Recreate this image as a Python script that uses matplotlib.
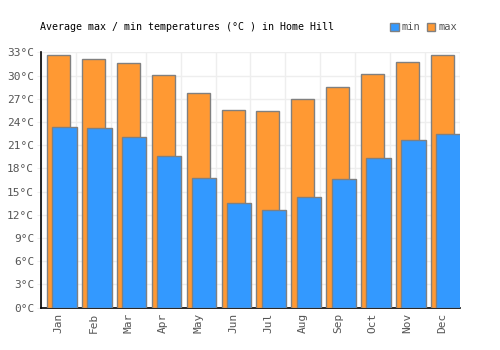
import matplotlib
matplotlib.use("Agg")
import matplotlib.pyplot as plt
import numpy as np
from matplotlib.patches import Patch

months = ["Jan", "Feb", "Mar", "Apr", "May", "Jun", "Jul", "Aug", "Sep", "Oct", "Nov", "Dec"]
max_temps = [32.6, 32.1, 31.6, 30.1, 27.7, 25.6, 25.4, 26.9, 28.5, 30.2, 31.8, 32.7]
min_temps = [23.3, 23.2, 22.1, 19.6, 16.7, 13.5, 12.6, 14.3, 16.6, 19.3, 21.7, 22.5]
yticks = [0, 3, 6, 9, 12, 15, 18, 21, 24, 27, 30, 33]

plt.rcParams['font.family'] = ['DejaVu Sans Mono']

fig = plt.figure(figsize=(5, 3.5), dpi=100)
ax = fig.add_axes([0.082, 0.121, 0.838, 0.7296])

x = np.arange(len(months))
orange = "#FF9933"
blue = "#3399FF"
edge = "#808080"

ax.bar(x, max_temps, width=0.66, color=orange, edgecolor=edge, linewidth=1, zorder=3)
ax.bar(x + 0.17, min_temps, width=0.7, color=blue, edgecolor=edge, linewidth=1, zorder=4)

ax.set_xlim(-0.5, 11.5)
ax.set_ylim(0, 33)
ax.set_yticks(yticks)
ax.set_yticklabels([f"{v}°C" for v in yticks], fontsize=8, color="#555555")
ax.set_xticks(x)
ax.set_xticklabels(months, rotation=90, fontsize=8, color="#555555")
ax.set_xticks(np.arange(-0.5, 12, 1), minor=True)
ax.tick_params(axis='x', which='both', length=0, pad=4)
ax.tick_params(axis='y', length=3, color="#eeeeee", pad=2)
ax.grid(True, axis='y', color="#eeeeee", linewidth=1, zorder=0)
ax.grid(True, axis='x', which='minor', color="#eeeeee", linewidth=1, zorder=0)
ax.grid(False, axis='x', which='major')

for s in ["top", "right"]:
    ax.spines[s].set_visible(False)
ax.spines["left"].set_color("black")
ax.spines["bottom"].set_color("black")
ax.spines["left"].set_linewidth(1.2)
ax.spines["bottom"].set_linewidth(1.2)

fig.text(0.08, 0.922, "Average max / min temperatures (°C ) in Home Hill", fontsize=7.2, color="#000000", va="center")

handles = [Patch(facecolor=blue, edgecolor=edge, label="min"),
           Patch(facecolor=orange, edgecolor=edge, label="max")]
fig.legend(handles=handles, loc="center", bbox_to_anchor=(0.847, 0.922), ncol=2, frameon=False,
           fontsize=7.5, handlelength=0.8, handleheight=0.8, handletextpad=0.3, columnspacing=0.6,
           labelcolor="#555555")

fig.savefig("out.png", dpi=100)
